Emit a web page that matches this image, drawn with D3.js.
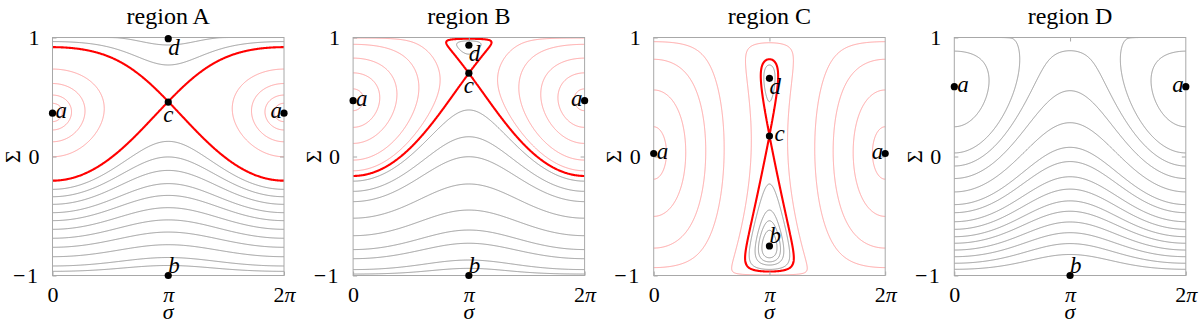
<!DOCTYPE html>
<html><head><meta charset="utf-8">
<script src="https://cdn.jsdelivr.net/npm/d3@7"></script>
<style>body{margin:0;background:#fff} svg{display:block}</style>
</head><body>
<svg id="chart" width="1200" height="324"></svg>
<script>
// ---------------- data ----------------
const panelTitles = ["region A", "region B", "region C", "region D"];
// phase-space model of each panel: H = ½Σ² − βΣ − γ√(1−Σ²) cos σ
const beta  = [0.41, 0.5565, 0.051, 0.75];
const gamma = [0.10, 0.1464, 0.70, 0.23];
// Σ of the saddle c at σ = π, null if none
const saddleGuess = [0.457, 0.70, 0.172, null];
// contour levels, given by the Σ where each contour crosses σ = 0 or σ = π
const redAt0  = [[0.293, 0.223, 0.124, -0.002], [0.385, 0.245, 0.11, -0.03, -0.12], [0.25, 0.559, 0.817, 0.965], []];
const redAtPi = [[], [], [0.956], []];
const grayAt0 = [
  [-0.276, -0.338, -0.402, -0.472, -0.539, -0.612, -0.687, -0.763, -0.842, -0.92, -0.965],
  [],
  [],
  [0.25, 0.03, -0.472, -0.548, -0.612, -0.674, -0.729, -0.786, -0.842, -0.897, -0.948]
];
const grayAtPi = [
  [0.937, 0.769],
  [0.86, 0.391, 0.166, -0.002, -0.231, -0.45, -0.618, -0.729, -0.87, -0.94],
  [0.769, -0.231, -0.45, -0.54, -0.62],
  [0.889, 0.553, 0.284, 0.077]
];
// equilibrium points
const eqLabels = [["a","a","c","d","b"], ["a","a","c","d","b"], ["a","a","c","d","b"], ["a","a","b"]];
const eqAngle  = [[0,2,1,1,1], [0,2,1,1,1], [0,2,1,1,1], [0,2,1]];          // σ in units of π
const eqAction = [[0.364,0.364,0.457,0.99,-1], [0.469,0.469,0.70,0.935,-1], [0.025,0.025,0.172,0.657,-0.752], [0.587,0.587,-1]];
// axes
const xTickValues = [0, Math.PI, 2*Math.PI];
const xTickLabels = ["0", "π", "2π"];
const yTickValues = [-1, 0, 1];
const yTickLabels = ["−1", "0", "1"];

// ---------------- layout ----------------
const svg = d3.select("#chart");
const LEFT0 = 52.5, PW = 231.5, STEP = 300.6, TOP = 37.5, PH = 238;
const serif = "'Liberation Serif','Times New Roman',serif";
const defs = svg.append("defs");

const nx = 420, ny = 440;
const sMin = -0.5, sMax = 2*Math.PI + 0.5, SMin = -1.03, SMax = 1.03;
const hs = (sMax - sMin)/nx, hS = (SMax - SMin)/ny;

function Hf(p, s, S) {
  const c = Math.max(0, 1 - S*S);
  return 0.5*S*S - beta[p]*S - gamma[p]*Math.sqrt(c)*Math.cos(s);
}
function dHdS_pi(p, S) { return S - beta[p] - gamma[p]*S/Math.sqrt(1 - S*S); }
function findSaddle(p, g) {
  let a = g - 0.12, b = Math.min(g + 0.12, 0.999);
  let fa = dHdS_pi(p, a);
  for (let i = 0; i < 80; i++) {
    const m = (a + b)/2, fm = dHdS_pi(p, m);
    if ((fm > 0) === (fa > 0)) { a = m; fa = fm; } else b = m;
  }
  return (a + b)/2;
}

panelTitles.forEach((title, p) => {
  const left = LEFT0 + p*STEP;
  const x = d3.scaleLinear().domain([0, 2*Math.PI]).range([left, left + PW]);
  const y = d3.scaleLinear().domain([-1, 1]).range([TOP + PH, TOP]);
  const g = svg.append("g");

  defs.append("clipPath").attr("id", "clip" + p)
    .append("rect").attr("x", left).attr("y", TOP).attr("width", PW).attr("height", PH);

  // grid
  const values = new Float64Array(nx*ny);
  for (let j = 0; j < ny; j++) {
    const S = SMin + (j + 0.5)*hS;
    for (let i = 0; i < nx; i++) values[j*nx + i] = Hf(p, sMin + (i + 0.5)*hs, S);
  }
  const contourGen = d3.contours().size([nx, ny]);
  const line = d3.line().x(pt => x(sMin + pt[0]*hs)).y(pt => y(SMin + pt[1]*hS));
  function rings(thr) {
    const out = [];
    contourGen.contour(values, thr).coordinates.forEach(poly => poly.forEach(r => out.push(r)));
    return out;
  }
  function nearRef(ring, sRef, SRef) {
    for (const k of [-1, 0, 1]) {
      const sr = sRef + 2*Math.PI*k;
      for (const pt of ring) {
        const s = sMin + pt[0]*hs, S = SMin + pt[1]*hS;
        if (Math.abs(s - sr) < 0.03 && Math.abs(S - SRef) < 0.012) return true;
      }
    }
    return false;
  }
  const cg = g.append("g").attr("clip-path", `url(#clip${p})`).attr("fill", "none");
  function drawLevel(sRef, SRef, color, width) {
    const thr = Hf(p, sRef, SRef);
    rings(thr).filter(r => nearRef(r, sRef, SRef)).forEach(r => {
      cg.append("path").attr("d", line(r) + "Z").attr("stroke", color).attr("stroke-width", width);
    });
  }
  grayAt0[p].forEach(S => drawLevel(0, S, "#8e8e8e", 0.9));
  grayAtPi[p].forEach(S => drawLevel(Math.PI, S, "#8e8e8e", 0.9));
  redAt0[p].forEach(S => drawLevel(0, S, "#ff9a9a", 0.9));
  redAtPi[p].forEach(S => drawLevel(Math.PI, S, "#ff9a9a", 0.9));
  if (saddleGuess[p] !== null) {
    const Sc = findSaddle(p, saddleGuess[p]);
    const thr = Hf(p, Math.PI, Sc);
    rings(thr).forEach(r => {
      cg.append("path").attr("d", line(r) + "Z").attr("stroke", "#ff0000").attr("stroke-width", 2.1);
    });
  }

  // frame
  g.append("rect").attr("x", left).attr("y", TOP).attr("width", PW).attr("height", PH)
    .attr("fill", "none").attr("stroke", "#a8a8a8").attr("stroke-width", 1);

  // axes
  const ax = d3.axisBottom(x).tickValues(xTickValues).tickFormat((d, i) => xTickLabels[i])
    .tickSizeInner(-4).tickSizeOuter(0).tickPadding(11);
  const axG = g.append("g").attr("transform", `translate(0,${TOP + PH})`).call(ax);
  const ay = d3.axisLeft(y).tickValues(yTickValues).tickFormat((d, i) => yTickLabels[i])
    .tickSizeInner(-4).tickSizeOuter(0).tickPadding(13);
  const ayG = g.append("g").attr("transform", `translate(${left},0)`).call(ay);
  const at = d3.axisTop(x).tickValues([Math.PI]).tickFormat("").tickSizeInner(-4).tickSizeOuter(0);
  const atG = g.append("g").attr("transform", `translate(0,${TOP})`).call(at);
  const ar = d3.axisRight(y).tickValues([0]).tickFormat("").tickSizeInner(-4).tickSizeOuter(0);
  const arG = g.append("g").attr("transform", `translate(${left + PW},0)`).call(ar);
  [axG, ayG, atG, arG].forEach(a => {
    a.select(".domain").remove();
    a.selectAll("line").attr("stroke", "#a8a8a8");
    a.selectAll("text").attr("font-family", serif).attr("font-size", 22).attr("fill", "#000");
  });
  axG.selectAll("text").filter((d, i) => i === 1).attr("font-style", "italic");
  axG.selectAll("text").each(function(d, i) {
    if (i === 2) d3.select(this).text(null).call(t => {
      t.append("tspan").text("2");
      t.append("tspan").attr("font-style", "italic").text("π");
    });
  });
  ayG.selectAll("text").attr("letter-spacing", (d) => d < 0 ? 1.5 : 0);

  // axis titles
  g.append("text").attr("x", x(Math.PI)).attr("y", 318.5).attr("text-anchor", "middle")
    .attr("font-family", serif).attr("font-style", "italic").attr("font-size", 22).text("σ");
  g.append("text").attr("transform", `translate(${left - 40},${y(0)}) rotate(-90)`)
    .attr("text-anchor", "middle").attr("dy", "0.35em")
    .attr("font-family", serif).attr("font-size", 22).text("Σ");
  g.append("text").attr("x", x(Math.PI)).attr("y", 23.5).attr("text-anchor", "middle")
    .attr("font-family", serif).attr("font-size", 24).text(title);

  // equilibria
  eqLabels[p].forEach((lab, k) => {
    const px = x(eqAngle[p][k]*Math.PI), py = y(eqAction[p][k]);
    g.append("circle").attr("cx", px).attr("cy", py).attr("r", 3.6).attr("fill", "#000");
    let tx = px, ty = py, anchor = "start";
    if (lab === "a") { if (eqAngle[p][k] === 0) { tx = px + 3; ty = py + 5; } else { tx = px - 2; ty = py + 5; anchor = "end"; } }
    else if (lab === "b") { tx = px; ty = py - 3; }
    else if (lab === "c") { if (p === 2) { tx = px + 5; ty = py + 5; } else { tx = px; ty = py + 20; anchor = "middle"; } }
    else if (lab === "d") { tx = px; ty = py + 16; }
    g.append("text").attr("x", tx).attr("y", ty).attr("text-anchor", anchor)
      .attr("font-family", serif).attr("font-style", "italic").attr("font-size", 23).text(lab);
  });
});
</script>
</body></html>
